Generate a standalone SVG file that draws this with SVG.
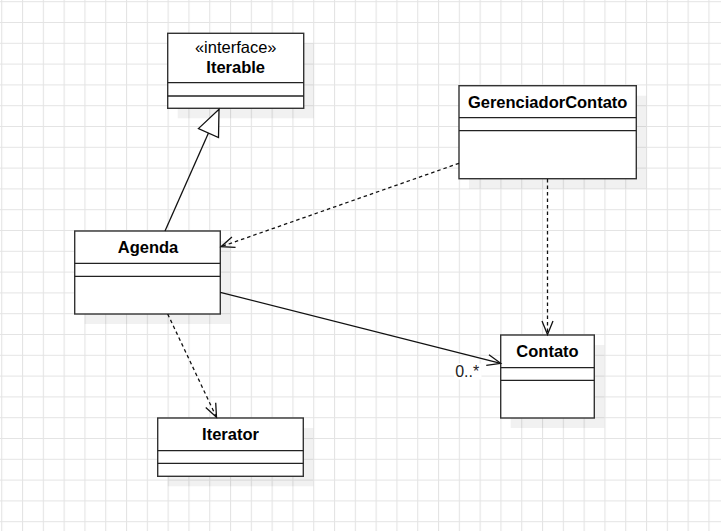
<svg xmlns="http://www.w3.org/2000/svg" width="721" height="531" viewBox="0 0 721 531">
  <defs>
    <pattern id="grid" x="1.2" y="1.2" width="20.8" height="20.8" patternUnits="userSpaceOnUse">
      <path d="M0 0.5 H20.8 M0.5 0 V20.8" fill="none" stroke="#e4e4e4" stroke-width="1.2"/>
    </pattern>
    <marker id="open" markerUnits="userSpaceOnUse" markerWidth="20" markerHeight="20" refX="0" refY="0" viewBox="-16 -10 20 20" orient="auto" overflow="visible">
      <path d="M-13.5 -5.5 L0 0 L-13.5 5.5" fill="none" stroke="#111" stroke-width="1.3"/>
    </marker>
    <marker id="tri" markerUnits="userSpaceOnUse" markerWidth="40" markerHeight="40" refX="0" refY="0" viewBox="-30 -15 40 30" orient="auto" overflow="visible">
      <path d="M-26 -11 L0 0 L-26 11 Z" fill="#fff" stroke="#111" stroke-width="1.3"/>
    </marker>
  </defs>
  <style>
    .box { fill: #fff; stroke: #333; stroke-width: 1.4; }
    .shadow { fill: #000; fill-opacity: 0.055; }
    .sep { stroke: #222; stroke-width: 1.3; }
    .title { font-family: "Liberation Sans", Arial, sans-serif; font-size: 16.5px; font-weight: bold; fill: #000; text-anchor: middle; }
    .stereo { font-family: "Liberation Sans", Arial, sans-serif; font-size: 16.5px; fill: #000; text-anchor: middle; }
    .edge { fill: none; stroke: #111; stroke-width: 1.3; }
    .dash { stroke-dasharray: 3.5 3; }
    .lbl { font-family: "Liberation Sans", Arial, sans-serif; font-size: 16px; fill: #222; }
  </style>
  <rect width="721" height="531" fill="#fff"/>
  <rect width="721" height="531" fill="url(#grid)"/>

  <g id="Iterable">
    <rect class="shadow" x="177.7" y="43.3" width="136" height="75"/>
    <rect class="box" x="167.7" y="33.3" width="136" height="75"/>
    <line class="sep" x1="167.7" y1="82.7" x2="303.7" y2="82.7"/>
    <line class="sep" x1="167.7" y1="96" x2="303.7" y2="96"/>
    <text class="stereo" x="235.7" y="53.3">«interface»</text>
    <text class="title" x="235.7" y="73.3">Iterable</text>
  </g>

  <g id="GerenciadorContato">
    <rect class="shadow" x="469" y="95.7" width="177.3" height="93"/>
    <rect class="box" x="459" y="85.7" width="177.3" height="93"/>
    <line class="sep" x1="459" y1="117.7" x2="636.3" y2="117.7"/>
    <line class="sep" x1="459" y1="130.7" x2="636.3" y2="130.7"/>
    <text class="title" x="547.7" y="108.3">GerenciadorContato</text>
  </g>

  <g id="Agenda">
    <rect class="shadow" x="84.7" y="241" width="145.6" height="83"/>
    <rect class="box" x="74.7" y="231" width="145.6" height="83"/>
    <line class="sep" x1="74.7" y1="263.3" x2="220.3" y2="263.3"/>
    <line class="sep" x1="74.7" y1="276.3" x2="220.3" y2="276.3"/>
    <text class="title" x="148" y="253.3">Agenda</text>
  </g>

  <g id="Contato">
    <rect class="shadow" x="510.7" y="345" width="93.6" height="83"/>
    <rect class="box" x="500.7" y="335" width="93.6" height="83"/>
    <line class="sep" x1="500.7" y1="367.7" x2="594.3" y2="367.7"/>
    <line class="sep" x1="500.7" y1="380.3" x2="594.3" y2="380.3"/>
    <text class="title" x="547.5" y="356.7">Contato</text>
  </g>

  <g id="Iterator">
    <rect class="shadow" x="167.7" y="428" width="145.6" height="58.3"/>
    <rect class="box" x="157.7" y="418" width="145.6" height="58.3"/>
    <line class="sep" x1="157.7" y1="450.7" x2="303.3" y2="450.7"/>
    <line class="sep" x1="157.7" y1="463.3" x2="303.3" y2="463.3"/>
    <text class="title" x="230.5" y="440">Iterator</text>
  </g>

  <g id="connectors">
    <path class="edge" d="M165 231 L219 109.3" marker-end="url(#tri)"/>
    <path class="edge dash" d="M459 163.3 L221 246.7" marker-end="url(#open)"/>
    <path class="edge dash" d="M547.5 179 L547.5 334.5" marker-end="url(#open)"/>
    <path class="edge" d="M220.3 292.3 L500.7 363.3" marker-end="url(#open)"/>
    <path class="edge dash" d="M167.7 314 L216.5 417.3" marker-end="url(#open)"/>
    <rect x="454" y="363.5" width="27.5" height="16" fill="#fff"/>
    <text class="lbl" x="455.2" y="376.7">0..*</text>
  </g>
</svg>
